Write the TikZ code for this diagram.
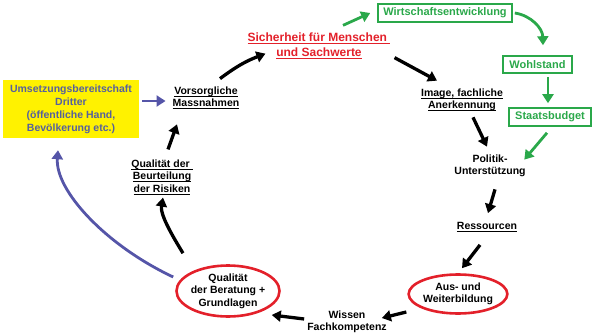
\documentclass[tikz,border=0pt]{standalone}
\usepackage{fontspec}
\setmainfont{Liberation Sans}
\usetikzlibrary{shapes.geometric, arrows.meta, positioning, calc}

\newcommand{\ulin}[1]{\vtop{\hbox{\raisebox{0pt}[\height][0pt]{#1}}\kern1.3pt\hrule height 0.9pt}}

\definecolor{ygelb}{HTML}{FFF200}
\definecolor{kblau}{HTML}{55609E}
\definecolor{pfblau}{HTML}{5555A8}
\definecolor{kgruen}{HTML}{2AA84A}
\definecolor{krot}{HTML}{E3202A}

\begin{document}
\begin{tikzpicture}[x=1pt, y=1pt,
    txt/.style={align=center, inner sep=1pt, font=\fontsize{10.5}{12.5}\selectfont\bfseries},
    ybox/.style={rectangle, fill=ygelb, text=kblau, align=center, minimum width=136pt, minimum height=58pt, font=\fontsize{10.5}{13}\selectfont\bfseries},
    gbox/.style={rectangle, draw=kgruen, line width=1.6pt, text=kgruen, inner sep=0pt, font=\fontsize{11}{13}\selectfont\bfseries},
    oval/.style={ellipse, draw=krot, line width=2.6pt, inner sep=0pt, align=center, font=\fontsize{10.5}{12.5}\selectfont\bfseries},
    arrow/.style={-{Triangle[length=9pt, width=11pt]}, line width=3.3pt},
    garrow/.style={arrow, draw=kgruen, line width=2.8pt},
    barrow/.style={arrow, draw=pfblau, line width=2.8pt},
]
\useasboundingbox (0,0) rectangle (595,-335);

% Knoten
\node[ybox] (dritte) at (71,-109) {Umsetzungsbereitschaft\\Dritter\\(öffentliche Hand,\\Bevölkerung etc.)};
\node[txt] (vors) at (206,-98) {\ulin{Vorsorgliche}\\\ulin{Massnahmen}};
\node[txt, text=krot, font=\fontsize{12}{15}\selectfont\bfseries] (sich) at (319,-45.5) {\ulin{Sicherheit für Menschen }\\\ulin{und Sachwerte}};
\node[gbox, minimum width=134pt, minimum height=18pt] (wirt) at (445,-13) {Wirtschaftsentwicklung};
\node[gbox, minimum width=69pt, minimum height=17pt] (wohl) at (537.5,-64.5) {Wohlstand};
\node[gbox, minimum width=82pt, minimum height=18pt] (staat) at (550,-117) {Staatsbudget};
\node[txt] (image) at (462,-100) {\ulin{Image, fachliche}\\\ulin{Anerkennung}};
\node[txt] (politik) at (490,-166) {Politik-\\Unterstützung};
\node[txt] (ress) at (487,-227) {\ulin{Ressourcen}};
\node[oval, minimum width=97pt, minimum height=39pt] (aus) at (458,-294) {Aus- und\\Weiterbildung};
\node[txt] (wissen) at (347,-322) {Wissen\\Fachkompetenz};
\node[oval, inner xsep=-3pt, minimum width=103pt, minimum height=51pt] (qberat) at (228,-291) {Qualität\\der Beratung +\\Grundlagen};
\node[txt] (qbeurt) at (162,-177) {\ulin{Qualität der }\\\ulin{Beurteilung}\\\ulin{der Risiken}};

% Pfeile
\draw[barrow] ([shift={(3,8)}]dritte.east) -- ([shift={(-6,-3)}]vors.west);
\draw[arrow] ([shift={(6,9)}]qbeurt.north) -- ([shift={(-29,-14)}]vors.south);
\draw[arrow] ([shift={(14,7)}]vors.north) to[bend left=8] ([shift={(19,6)}]sich.south west);
\draw[arrow] ([shift={(3,2)}]sich.south east) -- ([shift={(-25,7)}]image.north);
\draw[garrow] ([shift={(24,6)}]sich.north) -- ([shift={(-7,0)}]wirt.west);
\draw[garrow] ([shift={(2,0)}]wirt.east) to[bend left=40] ([shift={(5.5,10)}]wohl.north);
\draw[garrow] ([shift={(10.5,-3)}]wohl.south) -- ([shift={(-2,4)}]staat.north);
\draw[garrow] ([shift={(-3,-6)}]staat.south) -- ([shift={(-2.5,-6)}]politik.north east);
\draw[arrow] ([shift={(11,-5)}]image.south) -- ([shift={(-3,7)}]politik.north);
\draw[arrow] ([shift={(5,-11)}]politik.south) -- ([shift={(1,8)}]ress.north);
\draw[arrow] ([shift={(-7,-12)}]ress.south) -- ([shift={(4,5)}]aus.north);
\draw[arrow] ([shift={(-1,-18)}]aus.west) -- ([shift={(-6,4)}]wissen.east);
\draw[arrow] ([shift={(-2,3)}]wissen.west) -- ([shift={(-9,-24)}]qberat.east);
\draw[arrow] ([shift={(-45,11)}]qberat.north) .. controls +(-11,18) and +(-3,-17) .. ([shift={(1,-2)}]qbeurt.south);
\draw[barrow] ([shift={(-2,14)}]qberat.west) .. controls +(-68,32) and +(-3,-40) .. ([shift={(-13,-12)}]dritte.south);

\end{tikzpicture}
\end{document}
